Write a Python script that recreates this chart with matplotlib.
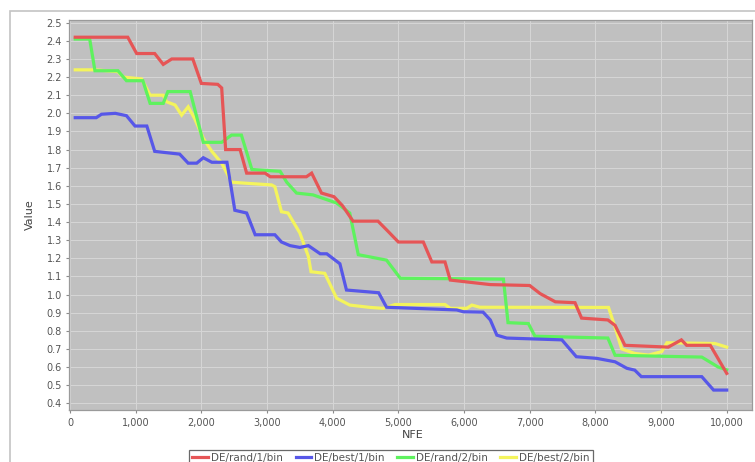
import matplotlib
matplotlib.use("Agg")
import matplotlib.pyplot as plt
from matplotlib.ticker import FuncFormatter, MultipleLocator
from matplotlib.patches import Rectangle

# convergence curves (NFE, value)
red_nfe = [80, 880, 1015, 1290, 1420, 1550, 1870, 2000, 2250, 2310, 2370, 2590, 2690, 2970,
           3050, 3600, 3680, 3830, 4020, 4150, 4310, 4690, 4840, 5000, 5380, 5510, 5710,
           5790, 6400, 7000, 7160, 7390, 7690, 7790, 8190, 8300, 8450, 9110, 9310, 9390,
           9750, 10000]
red_val = [2.42, 2.42, 2.33, 2.33, 2.27, 2.30, 2.30, 2.165, 2.16, 2.14, 1.80, 1.80, 1.67, 1.67,
           1.65, 1.65, 1.67, 1.56, 1.54, 1.49, 1.405, 1.405, 1.35, 1.29, 1.29, 1.18, 1.18,
           1.08, 1.055, 1.05, 1.005, 0.96, 0.955, 0.87, 0.86, 0.83, 0.72, 0.71, 0.75, 0.72,
           0.72, 0.565]

blue_nfe = [80, 400, 480, 690, 860, 990, 1170, 1290, 1670, 1800, 1930, 2030, 2160, 2390,
            2450, 2510, 2690, 2820, 3120, 3220, 3350, 3500, 3630, 3810, 3910, 4110, 4210,
            4700, 4820, 5890, 5990, 6290, 6400, 6500, 6650, 7490, 7710, 8020, 8300, 8480,
            8600, 8700, 9620, 9800, 10000]
blue_val = [1.976, 1.976, 1.995, 2.0, 1.987, 1.93, 1.93, 1.79, 1.775, 1.725, 1.725, 1.755, 1.73, 1.73,
            1.60, 1.465, 1.45, 1.33, 1.33, 1.29, 1.27, 1.26, 1.27, 1.225, 1.225, 1.17, 1.025,
            1.01, 0.93, 0.915, 0.905, 0.903, 0.86, 0.776, 0.76, 0.75, 0.657, 0.648, 0.629, 0.593,
            0.583, 0.547, 0.547, 0.473, 0.473]

green_nfe = [80, 300, 380, 730, 860, 1110, 1220, 1420, 1490, 1830, 2030, 2310, 2460, 2610,
             2770, 3200, 3300, 3450, 3700, 4060, 4260, 4390, 4820, 5030, 6600, 6670, 6980,
             7080, 8190, 8300, 9620, 9870, 10000]
green_val = [2.41, 2.41, 2.235, 2.235, 2.18, 2.18, 2.055, 2.055, 2.12, 2.12, 1.84, 1.84, 1.88, 1.88,
             1.69, 1.68, 1.62, 1.56, 1.55, 1.505, 1.45, 1.22, 1.19, 1.09, 1.085, 0.845, 0.84,
             0.77, 0.76, 0.665, 0.655, 0.60, 0.585]

yellow_nfe = [80, 380, 730, 810, 1090, 1220, 1420, 1470, 1600, 1700, 1800, 1900, 2030, 2160,
              2310, 2460, 2690, 3070, 3120, 3220, 3320, 3500, 3630, 3670, 3880, 4060, 4260,
              4570, 4770, 4950, 5710, 5790, 6040, 6120, 6240, 8200, 8300, 8400, 8600, 8810,
              9010, 9090, 9820, 10000]
yellow_val = [2.24, 2.24, 2.23, 2.20, 2.19, 2.10, 2.10, 2.064, 2.046, 1.99, 2.036, 1.97, 1.862, 1.79,
              1.725, 1.62, 1.614, 1.605, 1.595, 1.457, 1.45, 1.34, 1.21, 1.126, 1.117, 0.98, 0.942,
              0.929, 0.924, 0.945, 0.945, 0.924, 0.924, 0.942, 0.93, 0.929, 0.82, 0.70, 0.675, 0.666,
              0.685, 0.734, 0.73, 0.71]

series = [
    ("DE/rand/1/bin", red_nfe, red_val, "#e65556"),
    ("DE/best/1/bin", blue_nfe, blue_val, "#5757e8"),
    ("DE/rand/2/bin", green_nfe, green_val, "#5ef25e"),
    ("DE/best/2/bin", yellow_nfe, yellow_val, "#f4f45c"),
]

W, H = 755, 462
fig = plt.figure(figsize=(W / 100, H / 100), dpi=100)
fig.patch.set_facecolor("white")

# outer chart panel border
fig.patches.append(Rectangle((10 / W, -0.1), 1.0, 1 - 11 / H + 0.1, transform=fig.transFigure,
                             fill=False, edgecolor="#c4c4c4", linewidth=1.2))

ax = fig.add_axes([69 / W, 52 / H, 683 / W, 390 / H])
ax.set_facecolor("#c0c0c0")

handles = []
n = len(series)
for i, (name, xs, ys, col) in enumerate(series):
    h, = ax.plot(xs, ys, color=col, lw=2.3, label=name, zorder=10 + n - i,
                 solid_joinstyle="miter")
    handles.append(h)

ax.set_xlim(-15, 10385)
ax.set_ylim(0.363, 2.515)
ax.xaxis.set_major_locator(MultipleLocator(1000))
ax.yaxis.set_major_locator(MultipleLocator(0.1))
ax.xaxis.set_major_formatter(FuncFormatter(lambda v, p: f"{int(round(v)):,}"))
ax.yaxis.set_major_formatter(FuncFormatter(lambda v, p: f"{v:.1f}"))
ax.grid(True, color="#d6d6d6", lw=0.7, zorder=1)
ax.set_axisbelow(True)

ax.tick_params(axis="both", labelsize=7, colors="#8a8a8a", labelcolor="#555555", length=2, width=0.8)
ax.tick_params(axis="x", pad=4)
ax.tick_params(axis="y", pad=3)
for s in ax.spines.values():
    s.set_color("#9a9a9a")
    s.set_linewidth(0.9)

fig.text(30 / W, 1 - 215 / H, "Value", rotation=90, ha="center", va="center",
         fontsize=8, color="#444444")
fig.text(413 / W, 1 - 435 / H, "NFE", ha="center", va="center", fontsize=8, color="#444444")

leg = fig.legend(handles=handles, loc="center", bbox_to_anchor=(391 / W, 1 - 458 / H), ncol=4,
                 fontsize=7.5, frameon=True, fancybox=False, handlelength=1.5, handletextpad=0.3,
                 columnspacing=1.2, borderpad=0.3)
leg.get_frame().set_edgecolor("#444444")
leg.get_frame().set_linewidth(0.9)
for t in leg.get_texts():
    t.set_color("#555555")

fig.savefig("out.png", dpi=100)
plt.close()
